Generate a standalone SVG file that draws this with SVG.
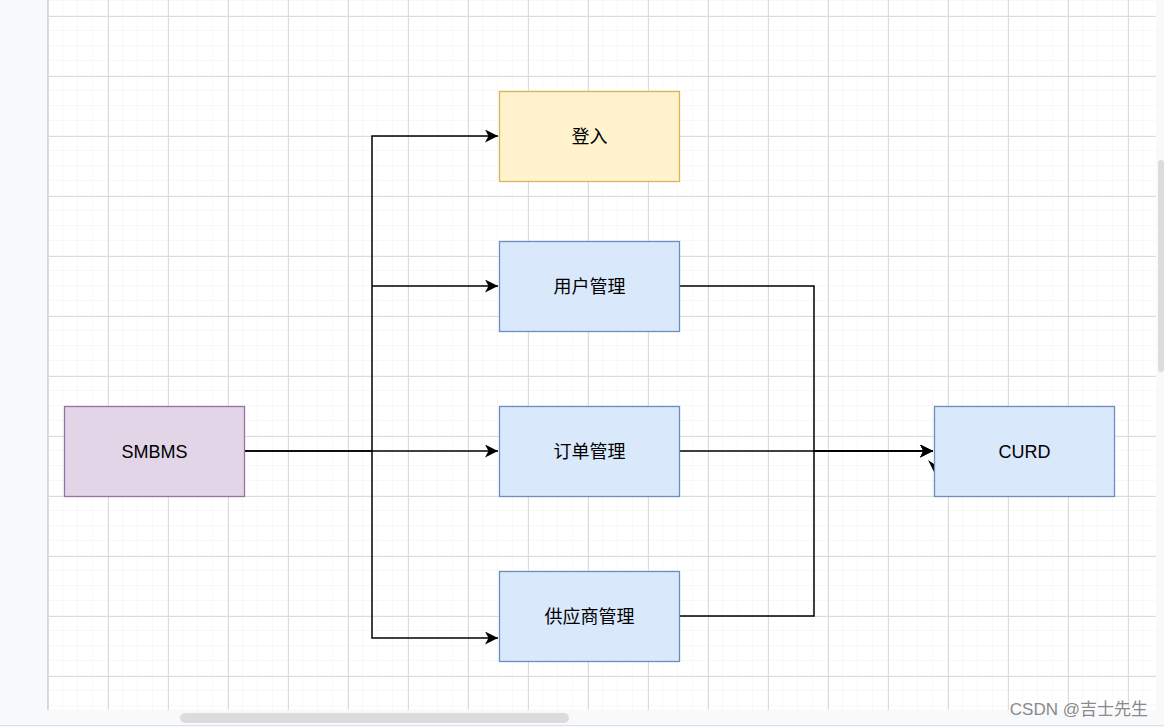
<svg xmlns="http://www.w3.org/2000/svg" width="1164" height="727" viewBox="0 0 1164 727">
<defs>
<pattern id="minor" x="48" y="16" width="15" height="15" patternUnits="userSpaceOnUse"><path d="M15 0V15M0 15H15" fill="none" stroke="#f0f0f0" stroke-width="1"/></pattern>
<pattern id="major" x="48" y="16" width="60" height="60" patternUnits="userSpaceOnUse"><path d="M0.5 0V60M0 0.5H60" fill="none" stroke="#dcdcdc" stroke-width="1"/></pattern>
<marker id="arr" viewBox="0 0 13 13" refX="13" refY="6.5" markerWidth="13" markerHeight="13" markerUnits="userSpaceOnUse" orient="auto"><path d="M0 0L13 6.5L0 13L3.5 6.5Z" fill="#000"/></marker>
</defs>
<style>
.node rect{stroke-width:1.3}
.blue rect{fill:#dae8fc;stroke:#6c8ebf}
.yellow rect{fill:#fff2cc;stroke:#d6b656}
.purple rect{fill:#e1d5e7;stroke:#9673a6}
.node text{font-family:"Liberation Sans","Noto Sans CJK SC",sans-serif;font-size:18px;fill:#000;text-anchor:middle;dominant-baseline:central}
.edge{fill:none;stroke:#000;stroke-width:1.5}
</style>
<rect width="1164" height="727" fill="#f8f9fa"/>
<rect x="48" y="0" width="1108" height="710" fill="#fff"/>
<rect x="48" y="0" width="1108" height="710" fill="url(#minor)"/>
<rect x="48" y="0" width="1108" height="710" fill="url(#major)"/>
<line x1="47.5" y1="0" x2="47.5" y2="710" stroke="#d8d8d8" stroke-width="1"/>
<rect x="1158" y="160" width="6" height="212" rx="3" fill="#dcdcde"/>
<rect x="180" y="713" width="389" height="10" rx="5" fill="#dcdcde"/>
<line x1="0" y1="725.5" x2="1164" y2="725.5" stroke="#dcdfe3"/>
<g id="connectors">
<path class="edge" d="M244 451H372V136H498" marker-end="url(#arr)"/>
<path class="edge" d="M372 286H498" marker-end="url(#arr)"/>
<path class="edge" d="M244 451H498" marker-end="url(#arr)" stroke-width="2"/>
<path class="edge" d="M372 451V638H498" marker-end="url(#arr)"/>
<path class="edge" d="M679 286H814V451H933" marker-end="url(#arr)"/>
<path class="edge" d="M679 451H933" marker-end="url(#arr)"/>
<path class="edge" d="M679 616H814V451H933" marker-end="url(#arr)"/>
<path d="M928 460L934 464L934 472Z" fill="#000"/>
</g>
<g id="n-login" class="node yellow"><rect x="499.5" y="91.5" width="180" height="90"/><text x="589.5" y="136.5">登入</text></g>
<g id="n-user" class="node blue"><rect x="499.5" y="241.5" width="180" height="90"/><text x="589.5" y="286.5">用户管理</text></g>
<g id="n-order" class="node blue"><rect x="499.5" y="406.5" width="180" height="90"/><text x="589.5" y="451.5">订单管理</text></g>
<g id="n-supplier" class="node blue"><rect x="499.5" y="571.5" width="180" height="90"/><text x="589.5" y="616.5">供应商管理</text></g>
<g id="n-smbms" class="node purple"><rect x="64.5" y="406.5" width="180" height="90"/><text x="154.5" y="451.5">SMBMS</text></g>
<g id="n-curd" class="node blue"><rect x="934.5" y="406.5" width="180" height="90"/><text x="1024.5" y="451.5">CURD</text></g>
<text x="1148" y="715" text-anchor="end" font-family="'Liberation Sans','Noto Sans CJK SC',sans-serif" font-size="17" fill="#8a8a8a">CSDN @吉士先生</text>
</svg>
